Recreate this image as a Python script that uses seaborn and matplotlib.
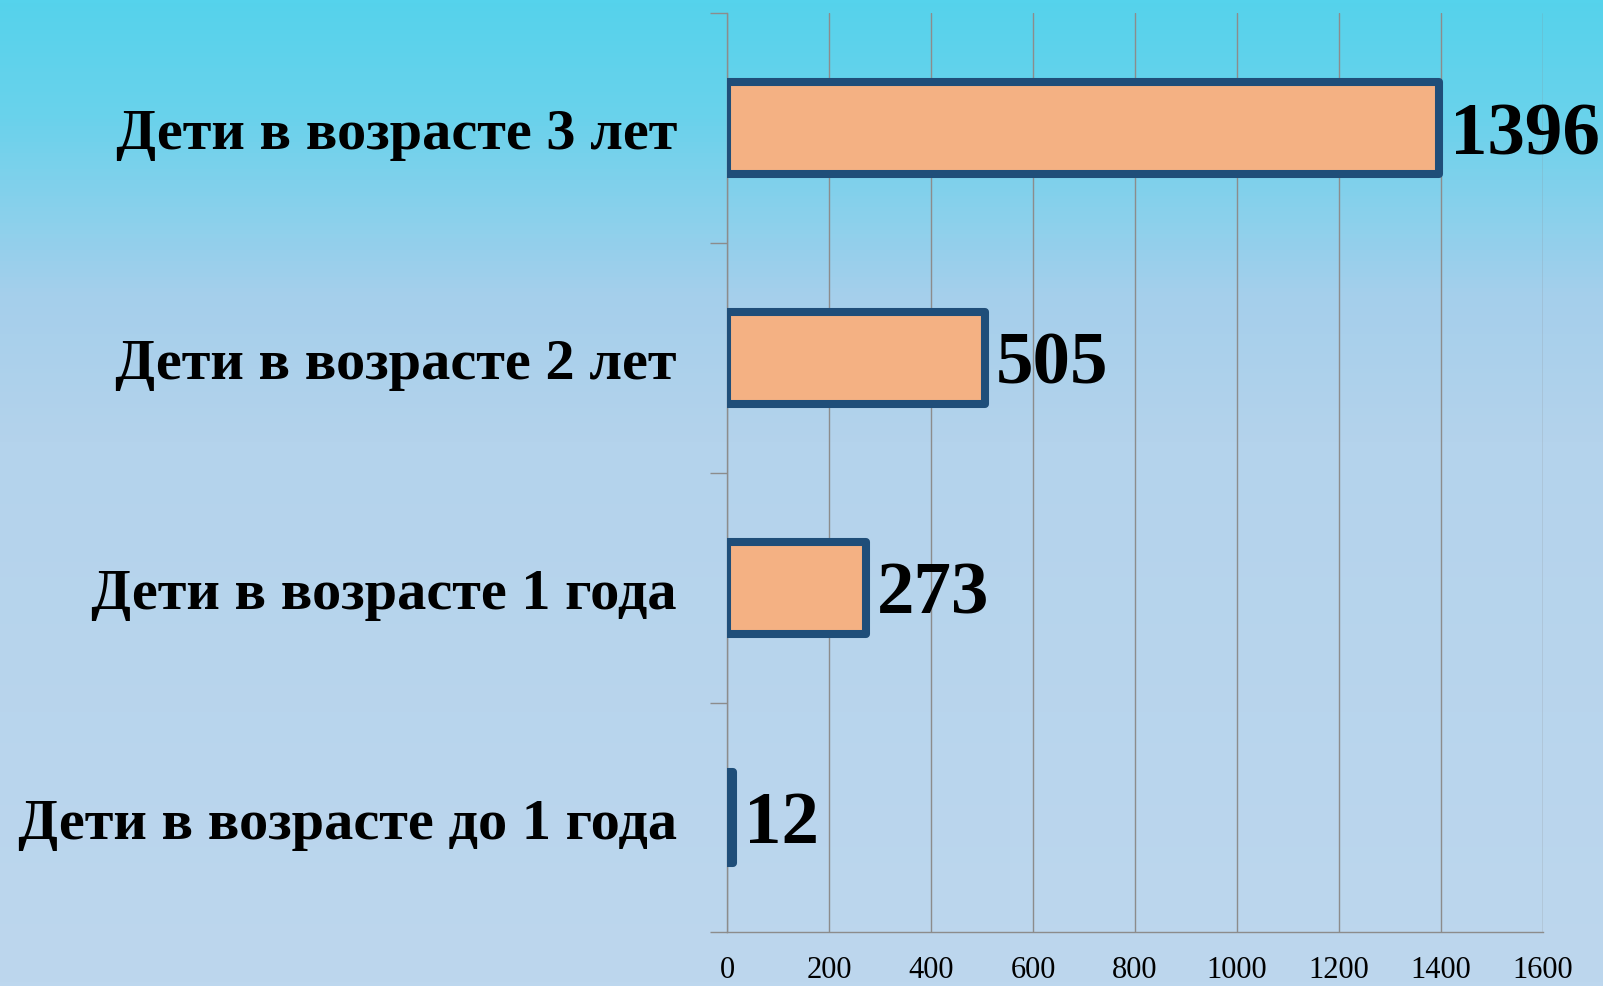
import matplotlib
matplotlib.use("Agg")
import matplotlib.pyplot as plt
import matplotlib.colors as mcolors
from matplotlib.ticker import FixedLocator
import numpy as np
import pandas as pd
import seaborn as sns

categories = ["Дети в возрасте до 1 года", "Дети в возрасте 1 года",
              "Дети в возрасте 2 лет", "Дети в возрасте 3 лет"]
values = [12, 273, 505, 1396]
x_ticks = [0, 200, 400, 600, 800, 1000, 1200, 1400, 1600]

df = pd.DataFrame({"group": categories, "count": values})

sns.set_style("white")
plt.rcParams["font.family"] = ["Liberation Serif", "DejaVu Serif"]
plt.rcParams["text.color"] = "black"
plt.rcParams["xtick.labelcolor"] = "black"
plt.rcParams["ytick.labelcolor"] = "black"

fig = plt.figure(figsize=(16.03, 9.87), dpi=100)

# gradient background
bg = fig.add_axes([0, 0, 1, 1], zorder=-10)
cmap = mcolors.LinearSegmentedColormap.from_list(
    "bg", [(0.0, "#55d3ec"), (0.12, "#6ad2eb"), (0.3, "#a5cfeb"),
           (0.45, "#b4d3ec"), (1.0, "#bdd7ee")])
grad = np.linspace(0, 1, 256).reshape(-1, 1)
bg.imshow(grad, aspect="auto", cmap=cmap, extent=[0, 1, 0, 1], origin="upper")
bg.set_axis_off()

ax = fig.add_axes([0.4535, 0.0543, 0.5091, 0.9313])
ax.patch.set_alpha(0)

order = categories[::-1]
sns.barplot(data=df, x="count", y="group", order=order, orient="h",
            color="#f4b183", width=0.40, saturation=1, ax=ax, zorder=3)
for p in ax.patches:
    p.set_edgecolor("#1f4e79")
    p.set_linewidth(5.8)
    p.set_joinstyle("round")

for i, cat in enumerate(order):
    v = df.loc[df["group"] == cat, "count"].iloc[0]
    ax.annotate(str(v), xy=(v, i), xytext=(8, -5), textcoords="offset points",
                ha="left", va="center", fontsize=54, fontweight="bold",
                color="black", zorder=5)

ax.set_xlim(0, 1600)
ax.set_ylim(3.5, -0.5)
ax.set_xticks(x_ticks)
ax.set_xticklabels([str(t) for t in x_ticks], fontsize=22, color="black")
ax.tick_params(axis="x", length=8, width=1, color="#8c8c8c", pad=8)
ax.tick_params(axis="y", which="major", length=0, pad=36, labelsize=42)
for lab in ax.get_yticklabels():
    lab.set_fontweight("bold")
    lab.set_color("black")
ax.yaxis.set_minor_locator(FixedLocator([-0.5, 0.5, 1.5, 2.5, 3.5]))
ax.tick_params(axis="y", which="minor", length=12, width=1, color="#8c8c8c", left=True)
ax.grid(axis="x", color="#8c8c8c", linewidth=1, zorder=0)
ax.set_axisbelow(True)
ax.set_xlabel("")
ax.set_ylabel("")

for side in ["top", "right"]:
    ax.spines[side].set_visible(False)
for side in ["left", "bottom"]:
    ax.spines[side].set_color("#8c8c8c")
    ax.spines[side].set_linewidth(1)

fig.savefig("out.png", dpi=100)
